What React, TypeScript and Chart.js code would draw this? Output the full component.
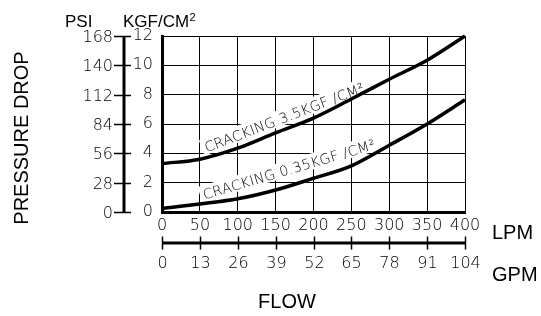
import React, { useEffect, useRef } from 'react';
import { Chart, registerables } from 'chart.js';

Chart.register(...registerables);

// ---- data ----
const lpmValues = [0, 50, 100, 150, 200, 250, 300, 350, 400];
const cracking35 = [3.3, 3.6, 4.35, 5.4, 6.4, 7.7, 9.05, 10.35, 12.0];
const cracking035 = [0.25, 0.55, 0.9, 1.5, 2.3, 3.15, 4.55, 6.0, 7.65];
const kgfTicks = [0, 2, 4, 6, 8, 10, 12];
const psiTicks = [0, 28, 56, 84, 112, 140, 168];
const lpmTicks = [0, 50, 100, 150, 200, 250, 300, 350, 400];
const gpmTicks = [0, 13, 26, 39, 52, 65, 78, 91, 104];
const seriesNames = ['CRACKING 3.5KGF /CM²', 'CRACKING 0.35KGF /CM²'];

// label anchors (data coordinates) and angles
const labelPlacement = [
  { lpm: 59, kgf: 4.05, angle: -21 },
  { lpm: 56, kgf: 0.85, angle: -16.5 },
];

const TICK_FONT = { family: '"DejaVu Sans"', size: 16, weight: '200' as any };
const TICK_FONT_CSS = '200 16px "DejaVu Sans"';
const LABEL_FONT_CSS = '200 14px "DejaVu Sans"';
const TITLE_FONT = '"Liberation Sans", Arial, sans-serif';

const extrasPlugin = {
  id: 'extras',
  beforeDatasetsDraw(chart: any) {
    const { ctx, scales } = chart;
    const x = scales.x, y = scales.y;
    labelPlacement.forEach((lab, i) => {
      const px = x.getPixelForValue(lab.lpm);
      const py = y.getPixelForValue(lab.kgf);
      ctx.save();
      ctx.translate(px, py);
      ctx.rotate((lab.angle * Math.PI) / 180);
      ctx.font = LABEL_FONT_CSS;
      try { (ctx as any).letterSpacing = '0.3px'; } catch (e) {}
      const w = ctx.measureText(seriesNames[i]).width;
      ctx.fillStyle = '#fff';
      ctx.fillRect(-3, -14, w + 6, 16);
      ctx.fillStyle = '#000';
      ctx.textAlign = 'left';
      ctx.textBaseline = 'alphabetic';
      ctx.fillText(seriesNames[i], 0, 0);
      ctx.restore();
    });
  },
  afterDraw(chart: any) {
    const { ctx, scales, chartArea: ca } = chart;
    const x = scales.x, y = scales.y;
    ctx.save();
    ctx.strokeStyle = '#000';
    ctx.fillStyle = '#000';

    // PSI axis
    const psiX = ca.left - 38;
    ctx.lineWidth = 3;
    ctx.beginPath();
    ctx.moveTo(psiX, y.getPixelForValue(12));
    ctx.lineTo(psiX, y.getPixelForValue(0));
    ctx.stroke();
    ctx.lineWidth = 1.5;
    ctx.font = TICK_FONT_CSS;
    ctx.textAlign = 'right';
    ctx.textBaseline = 'middle';
    psiTicks.forEach((p) => {
      const py = Math.round(y.getPixelForValue(p / 14)) + 0.5;
      ctx.beginPath();
      ctx.moveTo(psiX - 10, py);
      ctx.lineTo(psiX + 7, py);
      ctx.stroke();
      ctx.fillText(String(p), psiX - 11, py + 1);
    });

    // GPM axis
    const gy = ca.bottom + 31;
    ctx.lineWidth = 3;
    ctx.beginPath();
    ctx.moveTo(ca.left, gy);
    ctx.lineTo(ca.right, gy);
    ctx.stroke();
    ctx.lineWidth = 1.5;
    ctx.textAlign = 'center';
    gpmTicks.forEach((g) => {
      const gx = Math.round(x.getPixelForValue((g / 104) * 400)) + 0.5;
      ctx.beginPath();
      ctx.moveTo(gx, gy - 6.5);
      ctx.lineTo(gx, gy + 6.5);
      ctx.stroke();
      ctx.fillText(String(g), gx, gy + 21);
    });

    // titles
    ctx.textBaseline = 'alphabetic';
    ctx.textAlign = 'left';
    ctx.font = '17px ' + TITLE_FONT;
    ctx.fillText('PSI', 65, 27);
    ctx.fillText('KGF/CM', 123, 27);
    const kw = ctx.measureText('KGF/CM').width;
    ctx.font = '11px ' + TITLE_FONT;
    ctx.fillText('2', 123 + kw + 0.5, 21);

    ctx.font = '20px ' + TITLE_FONT;
    ctx.fillText('LPM', 492, 239);
    ctx.fillText('GPM', 492, 281);
    ctx.textAlign = 'center';
    ctx.fillText('FLOW', 287, 308);

    ctx.save();
    ctx.translate(28, 138);
    ctx.rotate(-Math.PI / 2);
    ctx.fillText('PRESSURE DROP', 0, 0);
    ctx.restore();

    ctx.restore();
  },
};

export default function App() {
  const ref = useRef<HTMLCanvasElement | null>(null);
  useEffect(() => {
    document.body.style.margin = '0';
    const canvas = ref.current!;
    const chart = new Chart(canvas, {
      type: 'line',
      data: {
        labels: lpmValues,
        datasets: [
          {
            label: seriesNames[0],
            data: lpmValues.map((v, i) => ({ x: v, y: cracking35[i] })),
            borderColor: '#000',
            borderWidth: 3.5,
            pointRadius: 0,
            cubicInterpolationMode: 'monotone',
            fill: false,
            clip: false as any,
          },
          {
            label: seriesNames[1],
            data: lpmValues.map((v, i) => ({ x: v, y: cracking035[i] })),
            borderColor: '#000',
            borderWidth: 3.5,
            pointRadius: 0,
            cubicInterpolationMode: 'monotone',
            fill: false,
            clip: false as any,
          },
        ],
      },
      options: {
        animation: false,
        responsive: false,
        devicePixelRatio: 1,
        layout: { padding: { top: 36, right: 76, bottom: 0, left: 0 } },
        plugins: { legend: { display: false }, tooltip: { enabled: false } },
        scales: {
          x: {
            type: 'linear',
            min: 0,
            max: 400,
            afterBuildTicks: (s: any) => { s.ticks = lpmTicks.map((v) => ({ value: v })); },
            ticks: { autoSkip: false, maxRotation: 0, padding: 4, font: TICK_FONT, color: '#000' },
            grid: { color: '#000', lineWidth: 1, drawTicks: false },
            border: { color: '#000', width: 3 },
            afterFit: (s: any) => { s.height = 104; },
          },
          y: {
            type: 'linear',
            min: 0,
            max: 12,
            afterBuildTicks: (s: any) => { s.ticks = kgfTicks.map((v) => ({ value: v })); },
            ticks: { padding: 9, font: TICK_FONT, color: '#000' },
            grid: { color: '#000', lineWidth: 1, drawTicks: false },
            border: { color: '#000', width: 3 },
            afterFit: (s: any) => { s.width = 162; },
          },
        },
      },
      plugins: [extrasPlugin],
    } as any);
    return () => chart.destroy();
  }, []);
  return (
    <canvas ref={ref} width={541} height={316} style={{ display: 'block', width: 541, height: 316 }} />
  );
}
